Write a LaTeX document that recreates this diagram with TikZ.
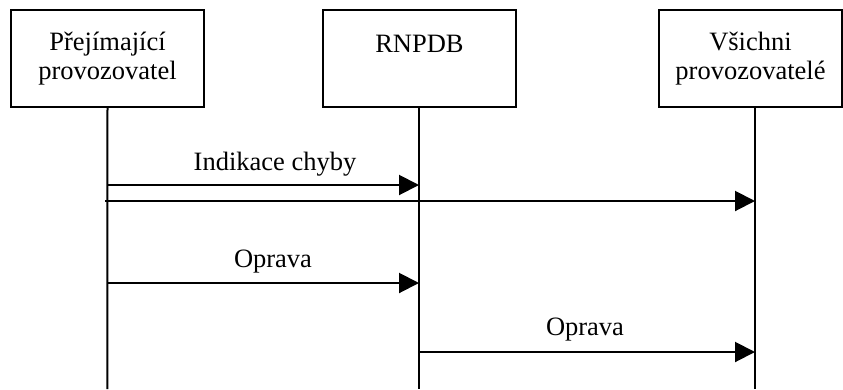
\documentclass[tikz,border=0pt]{standalone}
\usepackage{fontspec}
\setmainfont{Liberation Serif}
\usetikzlibrary{arrows.meta}
\tikzset{
  box/.style={draw, line width=2pt, minimum height=97pt, inner sep=0pt, align=center, font=\fontsize{26.5}{28.5}\selectfont},
  life/.style={line width=2pt},
  msg/.style={line width=2pt, -{Triangle[length=20pt,width=20pt]}},
  lbl/.style={anchor=base, inner sep=0pt, font=\fontsize{26.5}{28.5}\selectfont}
}
\begin{document}
\begin{tikzpicture}[x=1pt,y=-1pt]
\useasboundingbox (0,0) rectangle (843,389);
% boxes
\node[box, minimum width=193pt] (prov) at (107.5,58.5) {Přejímající\\provozovatel};
\node[box, minimum width=193pt] (rnpdb) at (419.5,58.5) {RNPDB\\~};
\node[box, minimum width=183pt] (vsi) at (750.5,58.5) {Všichni\\provozovatelé};
% lifelines
\coordinate (provend) at (107.3,389);
\coordinate (rnpdbend) at (419,389);
\coordinate (vsiend) at (755,389);
\draw[life] (prov.south) -- (provend);
\draw[life] (rnpdb.south -| rnpdbend) -- (rnpdbend);
\draw[life] (vsi.south -| vsiend) -- (vsiend);
% messages
\coordinate (m1a) at (107,185); \coordinate (m1b) at (419,185);
\coordinate (m2a) at (105,201); \coordinate (m2b) at (755,201);
\coordinate (m3a) at (107,283); \coordinate (m3b) at (419,283);
\coordinate (m4a) at (419,352); \coordinate (m4b) at (755,352);
\draw[msg] (m1a) -- (m1b);
\node[lbl] (l1) at (275,170) {Indikace chyby};
\draw[msg] (m2a) -- (m2b);
\draw[msg] (m3a) -- (m3b);
\node[lbl] (l3) at (273,267) {Oprava};
\draw[msg] (m4a) -- (m4b);
\node[lbl] (l4) at (585,335) {Oprava};
\end{tikzpicture}
\end{document}
